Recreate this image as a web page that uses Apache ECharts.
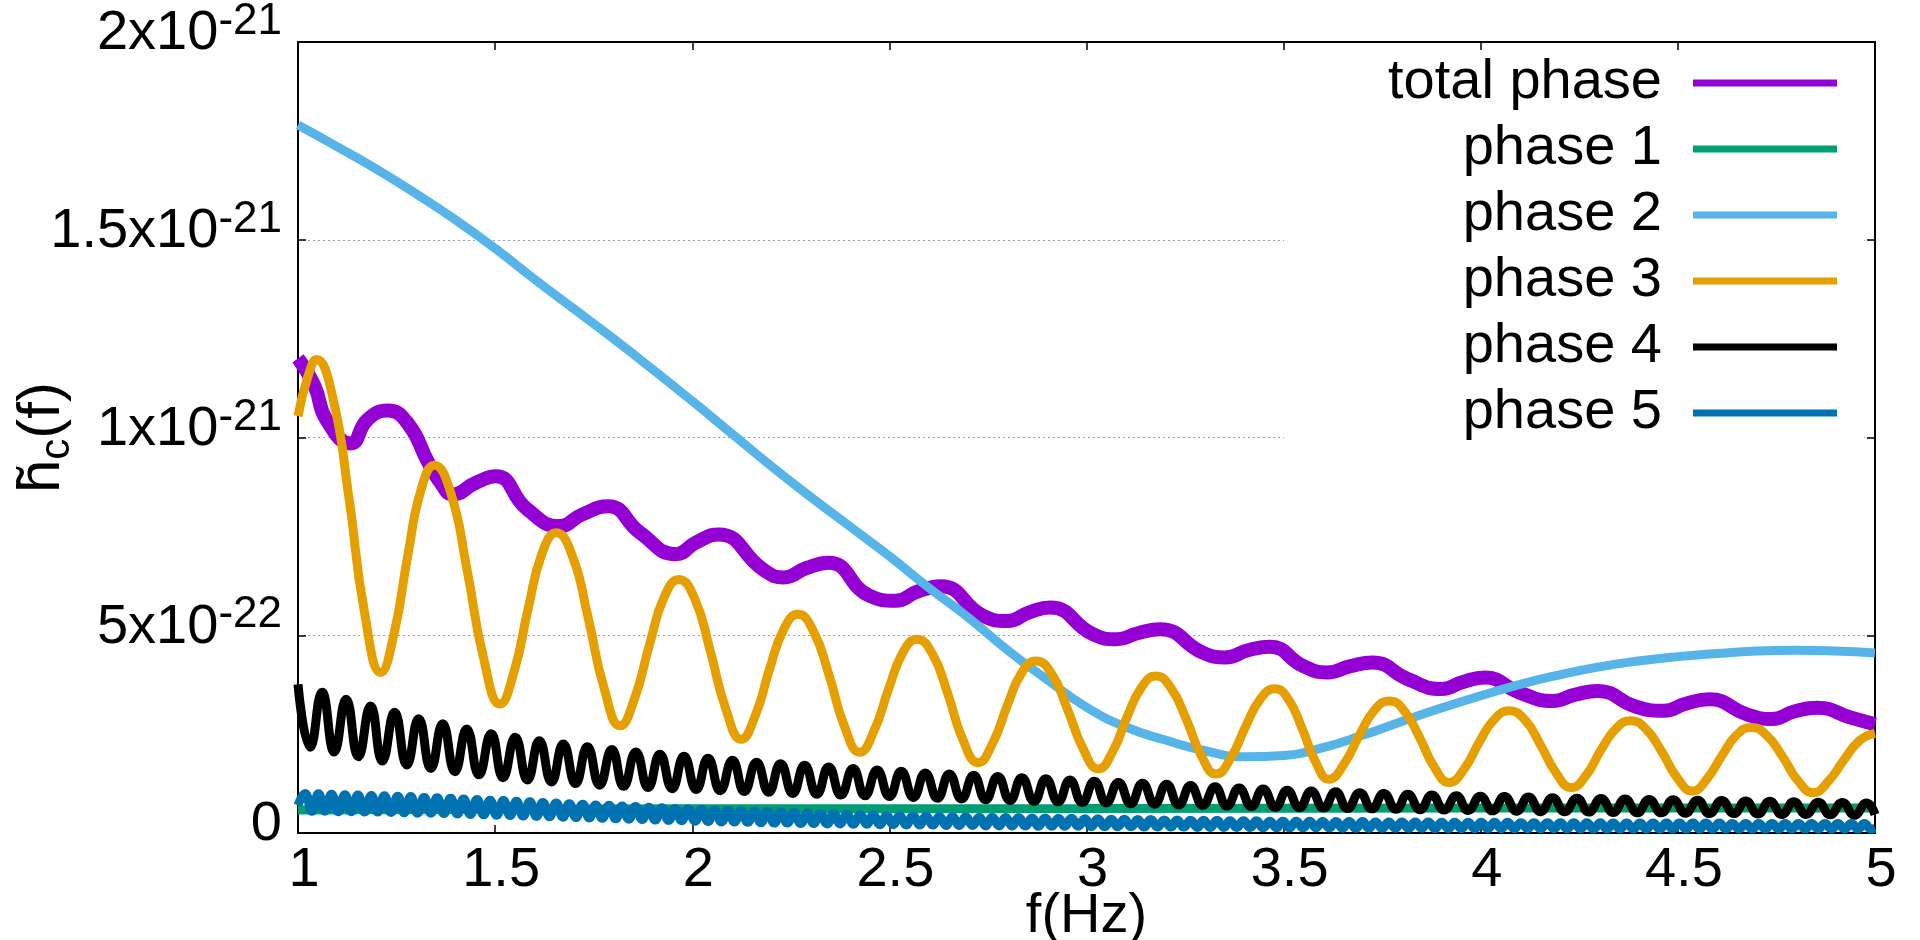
<!DOCTYPE html>
<html>
<head>
<meta charset="utf-8">
<script src="https://cdn.jsdelivr.net/npm/echarts@6/dist/echarts.min.js"></script>
<style>
html,body{margin:0;padding:0;background:#fff;}
#chart{width:1920px;height:940px;}
</style>
</head>
<body>
<div id="chart"></div>
<script>
// All values are in units of 1e-22
const seriesNames = ['total phase','phase 1','phase 2','phase 3','phase 4','phase 5'];
const seriesColors = ['#9400D3','#009E73','#56B4E9','#E69F00','#000000','#0072B2'];

const yTickValues = [0, 5, 10, 15, 20];
const yTickMant = ['0', '5x10', '1x10', '1.5x10', '2x10'];
const yTickExp = ['', '-22', '-21', '-21', '-21'];

// total phase
const totalF = [1.000,1.042,1.072,1.134,1.176,1.228,1.279,1.331,1.362,1.393,1.450,1.502,1.580,1.663,1.720,1.787,1.867,1.959,2.010,2.067,2.180,2.232,2.290,2.346,2.449,2.516,2.570,2.630,2.738,2.800,2.855,2.908,3.016,3.078,3.130,3.187,3.295,3.352,3.410,3.465,3.550,3.610,3.670,3.726,3.815,3.900,3.955,4.010,4.098,4.182,4.240,4.297,4.392,4.465,4.520,4.580,4.675,4.738,4.795,4.854,4.938,5.000];
const totalV = [12.0,11.3,10.45,9.85,10.45,10.68,10.35,9.36,8.85,8.56,8.85,9.02,8.2,7.76,8.05,8.26,7.6,7.05,7.35,7.55,6.66,6.46,6.7,6.83,6.0,5.87,6.1,6.24,5.49,5.36,5.58,5.7,5.03,4.9,5.05,5.15,4.56,4.44,4.62,4.71,4.22,4.06,4.22,4.31,3.89,3.64,3.82,3.93,3.55,3.34,3.5,3.59,3.2,3.09,3.27,3.38,3.0,2.88,3.07,3.17,2.92,2.75];

// phase 1
const phase1F = [1.0, 1.5, 2.0, 3.0, 4.0, 5.0];
const phase1V = [0.58, 0.6, 0.61, 0.62, 0.63, 0.63];

// phase 2
const phase2F = [1.0,1.1,1.2,1.3,1.4,1.5,1.6,1.7,1.8,1.9,2.0,2.1,2.2,2.3,2.4,2.5,2.6,2.7,2.8,2.9,3.0,3.1,3.2,3.3,3.4,3.5,3.6,3.7,3.8,3.9,4.0,4.1,4.2,4.3,4.4,4.5,4.6,4.7,4.8,4.9,5.0];
const phase2V = [17.9,17.35,16.78,16.16,15.5,14.78,14.0,13.25,12.5,11.72,10.92,10.1,9.28,8.5,7.75,7.0,6.2,5.45,4.62,3.88,3.18,2.68,2.35,2.08,1.93,1.96,2.16,2.47,2.82,3.16,3.47,3.76,4.0,4.2,4.35,4.46,4.54,4.6,4.62,4.6,4.55];

// phase 3
const phase3F = [1.000,1.024,1.047,1.088,1.129,1.169,1.210,1.244,1.278,1.312,1.346,1.388,1.429,1.471,1.512,1.548,1.584,1.619,1.655,1.696,1.736,1.777,1.817,1.854,1.892,1.929,1.966,2.006,2.045,2.085,2.124,2.160,2.196,2.232,2.268,2.307,2.347,2.386,2.425,2.461,2.498,2.534,2.570,2.609,2.648,2.686,2.725,2.762,2.799,2.835,2.872,2.912,2.951,2.991,3.030,3.067,3.103,3.140,3.176,3.214,3.253,3.291,3.329,3.366,3.404,3.441,3.478,3.512,3.547,3.581,3.615,3.653,3.692,3.730,3.768,3.806,3.844,3.882,3.920,3.958,3.996,4.034,4.072,4.112,4.151,4.191,4.230,4.268,4.305,4.343,4.380,4.419,4.459,4.498,4.537,4.574,4.612,4.649,4.686,4.725,4.765,4.804,4.843,4.882,4.922,4.961,5.000];
const phase3V = [10.54,11.5,11.97,11.02,8.49,5.56,4.06,5.06,6.99,8.67,9.30,8.58,6.64,4.41,3.26,4.08,5.68,7.07,7.59,7.0,5.44,3.64,2.71,3.41,4.78,5.97,6.41,5.93,4.63,3.14,2.37,2.97,4.14,5.15,5.53,5.11,3.99,2.70,2.04,2.58,3.64,4.56,4.90,4.53,3.53,2.37,1.78,2.27,3.22,4.04,4.35,4.02,3.15,2.14,1.62,2.07,2.94,3.69,3.97,3.67,2.88,1.96,1.49,1.90,2.70,3.39,3.65,3.38,2.64,1.80,1.36,1.74,2.47,3.10,3.34,3.09,2.43,1.67,1.28,1.62,2.29,2.87,3.09,2.86,2.24,1.52,1.15,1.47,2.10,2.64,2.84,2.63,2.06,1.40,1.06,1.37,1.96,2.48,2.67,2.47,1.94,1.33,1.02,1.31,1.86,2.34,2.52];

// phase 4 (fast oscillation: crests and troughs)
const phase4PeakF = [1.000,1.061,1.122,1.184,1.245,1.306,1.367,1.428,1.490,1.551,1.612,1.673,1.734,1.796,1.857,1.918,1.979,2.040,2.102,2.163,2.224,2.285,2.346,2.408,2.469,2.530,2.591,2.652,2.714,2.775,2.836,2.897,2.958,3.020,3.081,3.142,3.203,3.264,3.326,3.387,3.448,3.509,3.570,3.632,3.693,3.754,3.815,3.876,3.938,3.999,4.060,4.121,4.182,4.244,4.305,4.366,4.427,4.488,4.550,4.611,4.672,4.733,4.794,4.856,4.917,4.978];
const phase4PeakV = [3.76,3.56,3.38,3.21,3.05,2.89,2.76,2.63,2.51,2.42,2.33,2.25,2.18,2.11,2.05,1.99,1.94,1.89,1.84,1.79,1.75,1.71,1.67,1.63,1.59,1.56,1.52,1.49,1.46,1.43,1.40,1.37,1.34,1.31,1.28,1.26,1.23,1.20,1.17,1.14,1.11,1.08,1.06,1.04,1.02,1.00,0.98,0.96,0.94,0.93,0.92,0.91,0.89,0.88,0.87,0.86,0.85,0.84,0.83,0.82,0.81,0.80,0.79,0.78,0.77,0.76];
const phase4TroughF = [1.031,1.092,1.153,1.214,1.276,1.337,1.398,1.459,1.520,1.582,1.643,1.704,1.765,1.826,1.888,1.949,2.010,2.071,2.132,2.194,2.255,2.316,2.377,2.438,2.500,2.561,2.622,2.683,2.744,2.806,2.867,2.928,2.989,3.050,3.112,3.173,3.234,3.295,3.356,3.418,3.479,3.540,3.601,3.662,3.724,3.785,3.846,3.907,3.968,4.030,4.091,4.152,4.213,4.274,4.336,4.397,4.458,4.519,4.580,4.642,4.703,4.764,4.825,4.886,4.948,5.000];
const phase4TroughV = [2.17,2.05,1.93,1.82,1.72,1.63,1.55,1.47,1.40,1.34,1.29,1.25,1.21,1.18,1.15,1.12,1.10,1.07,1.05,1.03,1.00,0.98,0.96,0.94,0.92,0.90,0.88,0.86,0.84,0.82,0.80,0.79,0.77,0.76,0.74,0.73,0.71,0.70,0.68,0.67,0.65,0.64,0.63,0.62,0.61,0.60,0.59,0.58,0.57,0.56,0.55,0.54,0.54,0.53,0.52,0.51,0.51,0.50,0.49,0.49,0.48,0.47,0.47,0.46,0.45,0.47];

// phase 5 (faster oscillation: crests and troughs)
const phase5PeakF = [1.018,1.052,1.085,1.119,1.152,1.186,1.219,1.253,1.286,1.320,1.353,1.387,1.420,1.454,1.487,1.521,1.554,1.588,1.621,1.655,1.688,1.722,1.755,1.789,1.822,1.856,1.890,1.923,1.957,1.990,2.024,2.057,2.091,2.124,2.158,2.191,2.225,2.258,2.292,2.325,2.359,2.392,2.426,2.459,2.493,2.526,2.560,2.593,2.627,2.660,2.694,2.728,2.761,2.795,2.828,2.862,2.895,2.929,2.962,2.996,3.029,3.063,3.096,3.130,3.163,3.197,3.230,3.264,3.297,3.331,3.364,3.398,3.431,3.465,3.498,3.532,3.566,3.599,3.633,3.666,3.700,3.733,3.767,3.800,3.834,3.867,3.901,3.934,3.968,4.001,4.035,4.068,4.102,4.135,4.169,4.202,4.236,4.269,4.303,4.336,4.370,4.404,4.437,4.471,4.504,4.538,4.571,4.605,4.638,4.672,4.705,4.739,4.772,4.806,4.839,4.873,4.906,4.940,4.973];
const phase5PeakV = [1.00,0.99,0.98,0.97,0.96,0.95,0.94,0.93,0.92,0.90,0.89,0.88,0.86,0.85,0.83,0.82,0.80,0.79,0.77,0.76,0.74,0.73,0.71,0.70,0.68,0.67,0.65,0.64,0.62,0.61,0.60,0.58,0.57,0.56,0.55,0.54,0.53,0.52,0.51,0.50,0.49,0.48,0.47,0.46,0.45,0.44,0.44,0.43,0.42,0.42,0.41,0.40,0.40,0.39,0.39,0.38,0.38,0.37,0.37,0.36,0.36,0.35,0.35,0.34,0.34,0.33,0.33,0.32,0.32,0.32,0.31,0.31,0.31,0.30,0.30,0.30,0.30,0.29,0.29,0.29,0.29,0.28,0.28,0.28,0.28,0.28,0.27,0.27,0.27,0.27,0.27,0.27,0.26,0.26,0.26,0.26,0.26,0.26,0.26,0.25,0.25,0.25,0.25,0.25,0.25,0.25,0.25,0.25,0.24,0.24,0.24,0.24,0.24,0.24,0.24,0.24,0.24,0.24,0.24];
const phase5TroughF = [1.000,1.035,1.068,1.102,1.135,1.169,1.202,1.236,1.269,1.303,1.337,1.370,1.404,1.437,1.471,1.504,1.538,1.571,1.605,1.638,1.672,1.705,1.739,1.772,1.806,1.839,1.873,1.906,1.940,1.973,2.007,2.040,2.074,2.107,2.141,2.174,2.208,2.241,2.275,2.308,2.342,2.375,2.409,2.443,2.476,2.510,2.543,2.577,2.610,2.644,2.677,2.711,2.744,2.778,2.811,2.845,2.878,2.912,2.945,2.979,3.012,3.046,3.079,3.113,3.146,3.180,3.214,3.247,3.281,3.314,3.348,3.381,3.415,3.448,3.482,3.515,3.549,3.582,3.616,3.649,3.683,3.716,3.750,3.783,3.817,3.850,3.884,3.918,3.951,3.985,4.018,4.052,4.085,4.119,4.152,4.186,4.219,4.253,4.286,4.320,4.353,4.387,4.420,4.454,4.487,4.521,4.555,4.588,4.622,4.655,4.689,4.722,4.756,4.789,4.823,4.856,4.890,4.923,4.957,4.990,5.000];
const phase5TroughV = [0.70,0.55,0.55,0.54,0.54,0.53,0.53,0.52,0.51,0.50,0.50,0.49,0.48,0.47,0.46,0.45,0.44,0.43,0.42,0.41,0.40,0.39,0.38,0.37,0.36,0.35,0.34,0.33,0.32,0.31,0.30,0.29,0.28,0.28,0.27,0.26,0.25,0.25,0.24,0.24,0.23,0.23,0.22,0.22,0.21,0.21,0.20,0.20,0.20,0.19,0.19,0.19,0.18,0.18,0.18,0.18,0.17,0.17,0.17,0.17,0.16,0.16,0.16,0.16,0.15,0.15,0.15,0.15,0.14,0.14,0.14,0.14,0.14,0.13,0.13,0.13,0.13,0.13,0.13,0.12,0.12,0.12,0.12,0.12,0.12,0.12,0.11,0.11,0.11,0.11,0.11,0.11,0.11,0.11,0.11,0.11,0.11,0.10,0.10,0.10,0.10,0.10,0.10,0.10,0.10,0.10,0.10,0.10,0.10,0.10,0.10,0.10,0.10,0.10,0.10,0.10,0.10,0.10,0.10,0.10,0.12];

function zipPairs(f, v) { return f.map((x, i) => [x, v[i]]); }
function mergeSorted(a, b) { return a.concat(b).sort((p, q) => p[0] - q[0]); }

const seriesData = [
  zipPairs(totalF, totalV),
  zipPairs(phase1F, phase1V),
  zipPairs(phase2F, phase2V),
  zipPairs(phase3F, phase3V),
  mergeSorted(zipPairs(phase4PeakF, phase4PeakV), zipPairs(phase4TroughF, phase4TroughV)),
  mergeSorted(zipPairs(phase5PeakF, phase5PeakV), zipPairs(phase5TroughF, phase5TroughV))
];
const lineWidths = [14, 9, 9, 9, 9, 9];

const FONT = 'Liberation Sans, Arial, sans-serif';
const chart = echarts.init(document.getElementById('chart'), null, {renderer: 'canvas'});

const axisLineStyle = {color: '#000', width: 2};
const tickStyle = {inside: true, length: 8, lineStyle: {color: '#000', width: 1.5}};

chart.setOption({
  animation: false,
  backgroundColor: '#fff',
  grid: {left: 298, right: 45, top: 42, bottom: 107, containLabel: false, outerBoundsMode: 'none'},
  legend: {
    data: seriesNames.map(n => ({name: n, icon: 'rect'})),
    orient: 'vertical',
    align: 'right',
    right: 56,
    top: 52,
    itemWidth: 144,
    itemHeight: 7,
    itemGap: 10,
    padding: [3, 27, 6, 104],
    backgroundColor: '#fff',
    textStyle: {fontSize: 56, fontFamily: FONT, color: '#000', lineHeight: 56, padding: [0, 26, 0, 0]}
  },
  xAxis: [{
    type: 'value', min: 1, max: 5, interval: 0.5, position: 'bottom',
    axisLine: {show: true, onZero: false, lineStyle: axisLineStyle},
    axisTick: tickStyle,
    splitLine: {show: false},
    axisLabel: {fontSize: 56, fontFamily: FONT, color: '#000', margin: 10, padding: [0, 0, 0, 12]},
    name: 'f(Hz)', nameLocation: 'middle', nameGap: 56, nameMoveOverlap: false,
    nameTextStyle: {fontSize: 56, fontFamily: FONT, color: '#000'}
  }, {
    type: 'value', min: 1, max: 5, interval: 0.5, position: 'top',
    axisLine: {show: true, onZero: false, lineStyle: axisLineStyle},
    axisTick: tickStyle, axisLabel: {show: false}, splitLine: {show: false}
  }],
  yAxis: [{
    type: 'value', min: 0, max: 20, interval: 5, position: 'left',
    axisLine: {show: true, onZero: false, lineStyle: axisLineStyle},
    axisTick: tickStyle,
    splitLine: {show: true, lineStyle: {color: '#a0a0a0', width: 1, type: [2, 3]}},
    axisLabel: {
      margin: 16,
      color: '#000',
      formatter: function (v) {
        const i = yTickValues.indexOf(v);
        if (i < 0) return '';
        return yTickExp[i] ? '{m|' + yTickMant[i] + '}{e|' + yTickExp[i] + '}' : '{m|' + yTickMant[i] + '}';
      },
      rich: {
        m: {fontSize: 56, fontFamily: FONT, color: '#000', lineHeight: 56, padding: [0, 0, 8, 0], verticalAlign: 'bottom'},
        e: {fontSize: 44, fontFamily: FONT, color: '#000', lineHeight: 44, padding: [0, 0, 26, 0], verticalAlign: 'bottom'}
      }
    },
    name: '{h|h\u0303}{c|c}{p|(f)}', nameLocation: 'middle', nameRotate: 90, nameGap: 220, nameMoveOverlap: false,
    nameTextStyle: {
      color: '#000',
      rich: {
        h: {fontSize: 60, fontFamily: FONT, color: '#000', lineHeight: 60, padding: [0, 0, 6, 0], verticalAlign: 'bottom'},
        c: {fontSize: 42, fontFamily: FONT, color: '#000', lineHeight: 42, verticalAlign: 'bottom'},
        p: {fontSize: 60, fontFamily: FONT, color: '#000', lineHeight: 60, padding: [0, 0, 6, 0], verticalAlign: 'bottom'}
      }
    }
  }, {
    type: 'value', min: 0, max: 20, interval: 5, position: 'right',
    axisLine: {show: true, onZero: false, lineStyle: axisLineStyle},
    axisTick: tickStyle, axisLabel: {show: false}, splitLine: {show: false}
  }],
  series: seriesNames.map((name, i) => ({
    name: name,
    type: 'line',
    xAxisIndex: 0,
    yAxisIndex: 0,
    data: seriesData[i],
    showSymbol: false,
    smooth: true,
    color: seriesColors[i],
    lineStyle: {color: seriesColors[i], width: lineWidths[i]},
    itemStyle: {color: seriesColors[i]}
  }))
});
</script>
</body>
</html>
